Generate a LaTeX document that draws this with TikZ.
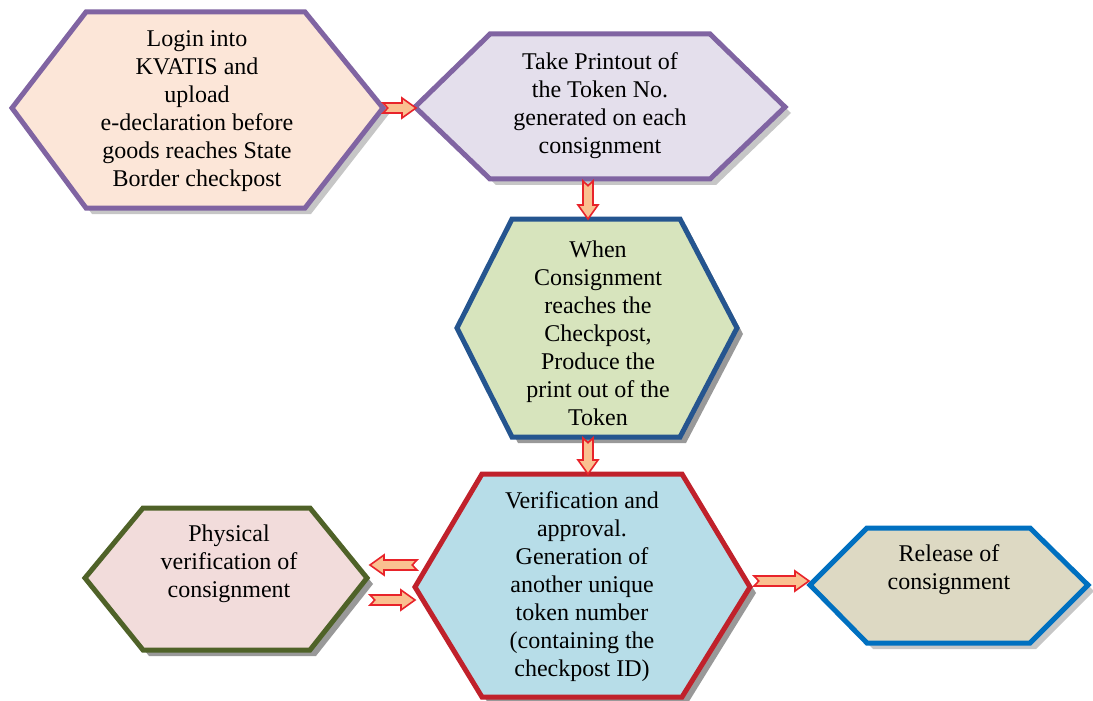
\documentclass[tikz,border=0pt]{standalone}
\usepackage{fontspec}
\setmainfont{Liberation Serif}
\usepackage{tikz}
\usetikzlibrary{calc}

\definecolor{purpleb}{HTML}{8064A2}
\definecolor{peach}{HTML}{FCE6D8}
\definecolor{lavender}{HTML}{E4DFEC}
\definecolor{leafgreen}{HTML}{D7E4BD}
\definecolor{navyb}{HTML}{25558F}
\definecolor{skyblue}{HTML}{B7DDE8}
\definecolor{redb}{HTML}{C0212B}
\definecolor{rosy}{HTML}{F2DCDB}
\definecolor{oliveb}{HTML}{4F6228}
\definecolor{khaki}{HTML}{DDD9C3}
\definecolor{blueb}{HTML}{0070C0}
\definecolor{arrfill}{HTML}{FAC090}
\definecolor{arrdraw}{HTML}{E8232A}

\tikzset{
  hexbox/.style={line width=2.5pt, line join=miter},
  hexshadow/.style={fill=gray!80},
  lightshadow/.style={fill=gray!45},
  hextext/.style={align=center, font=\fontsize{12}{14}\selectfont},
  blockarr/.style={draw=arrdraw, fill=arrfill, line width=0.8pt, line join=miter}
}

% hexagon: left x, top-left x, top-right x, right x, top y, middle y, bottom y
\newcommand{\hexpath}[7]{(#1,#6) -- (#2,#5) -- (#3,#5) -- (#4,#6) -- (#3,#7) -- (#2,#7) -- cycle}

% notched block arrow between two named coordinates
\newcommand{\blockarrow}[2]{%
  \pgfpointdiff{\pgfpointanchor{#1}{center}}{\pgfpointanchor{#2}{center}}%
  \pgfgetlastxy{\arrdx}{\arrdy}%
  \pgfmathsetmacro{\arrlen}{veclen(\arrdx,\arrdy)}%
  \pgfmathsetmacro{\arrang}{atan2(\arrdy,\arrdx)}%
  \draw[blockarr, shift={(#1)}, rotate=\arrang, x=1pt, y=1pt]
    (0,-2.5) -- (\arrlen-7,-2.5) -- (\arrlen-7,-5) -- (\arrlen,0) -- (\arrlen-7,5)
    -- (\arrlen-7,2.5) -- (0,2.5) -- (2.4,0) -- cycle;}

\begin{document}
\begin{tikzpicture}[x=0.5pt, y=-0.5pt]
\useasboundingbox (0,0) rectangle (1093,701);
\clip (0,0) rectangle (1093,701);

% shadows
\fill[lightshadow, shift={(6,6)}] \hexpath{12}{86}{305}{383}{12}{108}{208};
\fill[lightshadow, shift={(6,6)}] \hexpath{415}{490}{710}{785}{34}{107}{179};
\fill[hexshadow, shift={(6,6)}] \hexpath{457}{512}{680}{737}{219}{328}{437};
\fill[hexshadow, shift={(6,6)}] \hexpath{415}{482}{682}{750}{474}{587}{697};
\fill[hexshadow, shift={(6,6)}] \hexpath{85}{143}{310}{367}{508}{578}{650};
\fill[lightshadow, shift={(6,6)}] \hexpath{810}{867}{1030}{1088}{528}{585}{643};

% boxes
\draw[hexbox, draw=purpleb, fill=peach] \hexpath{12}{86}{305}{383}{12}{108}{208};
\draw[hexbox, draw=purpleb, fill=lavender] \hexpath{415}{490}{710}{785}{34}{107}{179};
\draw[hexbox, draw=navyb, fill=leafgreen] \hexpath{457}{512}{680}{737}{219}{328}{437};
\draw[hexbox, draw=redb, fill=skyblue] \hexpath{415}{482}{682}{750}{474}{587}{697};
\draw[hexbox, draw=oliveb, fill=rosy] \hexpath{85}{143}{310}{367}{508}{578}{650};
\draw[hexbox, draw=blueb, fill=khaki] \hexpath{810}{867}{1030}{1088}{528}{585}{643};

% texts
\node[hextext] (login) at (197,111) {Login into\\KVATIS and\\upload\\e-declaration before\\goods reaches State\\Border checkpost};
\node[hextext] (printout) at (600,106) {Take Printout of\\the Token No.\\generated on each\\consignment};
\node[hextext] (arrival) at (598,333) {When\\Consignment\\reaches the\\Checkpost,\\Produce the\\print out of the\\Token};
\node[hextext] (verify) at (582,587) {Verification and\\approval.\\Generation of\\another unique\\token number\\(containing the\\checkpost ID)};
\node[hextext] (physical) at (229,564) {Physical\\verification of\\consignment};
\node[hextext] (release) at (949,570) {Release of\\consignment};

% arrow ends
\coordinate (login-e) at (383,108);
\coordinate (printout-w) at (416,108);
\coordinate (printout-s) at (588,181);
\coordinate (arrival-n) at (588,219);
\coordinate (arrival-s) at (588,438);
\coordinate (verify-n) at (588,474);
\coordinate (verify-w1) at (417,565);
\coordinate (physical-e1) at (370,565);
\coordinate (physical-e2) at (370,600);
\coordinate (verify-w2) at (415,600);
\coordinate (verify-e) at (754,581);
\coordinate (release-w) at (809,581);

\blockarrow{login-e}{printout-w}
\blockarrow{printout-s}{arrival-n}
\blockarrow{arrival-s}{verify-n}
\blockarrow{verify-w1}{physical-e1}
\blockarrow{physical-e2}{verify-w2}
\blockarrow{verify-e}{release-w}
\end{tikzpicture}
\end{document}
